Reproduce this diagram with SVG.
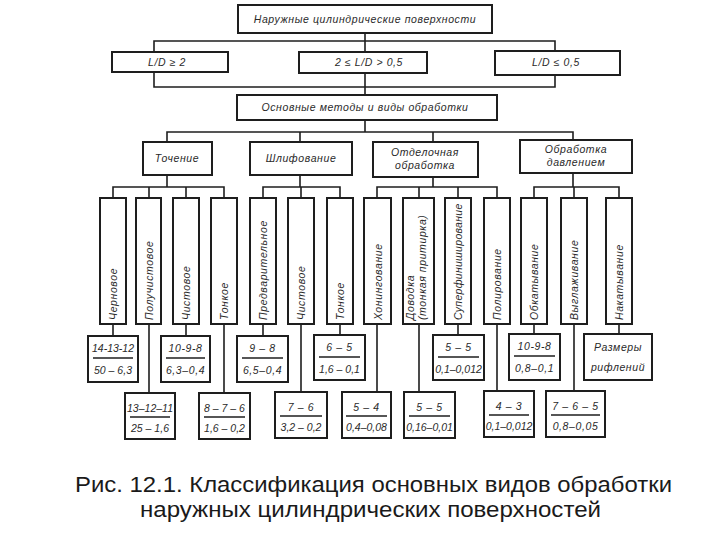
<svg xmlns="http://www.w3.org/2000/svg" width="720" height="540" viewBox="0 0 720 540">
<style>
.b{fill:#fff;stroke:#1e1e1e;stroke-width:2}
.c{fill:none;stroke:#1e1e1e;stroke-width:1.6}
.t{font-family:"Liberation Sans",Arial,sans-serif;font-style:italic;font-size:10.5px;fill:#2a2a2a;letter-spacing:0.6px}
.n{letter-spacing:0}
.m{text-anchor:middle}
.cap{font-family:"Liberation Sans",Arial,sans-serif;font-size:22.5px;fill:#1a1a1a}
</style>
<rect width="720" height="540" fill="#fff"/>
<g id="connectors" class="c">
<path d="M365 33V41M154 52V41H555V52M365 41V52"/>
<path d="M154 72V87H555V75M365 73V95"/>
<path d="M365 120V132M167 142V132H573V140M300 132V142M433 132V142"/>
<path d="M167 175V187M113 198V187H224V198M149 187V198M186 187V198"/>
<path d="M300 175V187M263 198V187H340V198M301 187V198"/>
<path d="M433 177V187M377 198V187H497V198M419 187V198M458 187V198"/>
<path d="M573 173V187M534 198V187H619V198M574 187V198"/>
<path d="M113 324V336M186 324V336M263 324V336M340 324V335M458 324V335M534 324V334M619 324V334"/>
<path d="M149 324V393M224 324V393M301 324V392M377 324V392M419 324V392M497 324V391M574 324V391"/>
</g>
<g id="n-top"><rect class="b" x="238" y="5" width="254" height="28"/><text class="t m" x="365" y="23">Наружные цилиндрические поверхности</text></g>
<g id="n-ld1"><rect class="b" x="112" y="52" width="116" height="20"/><text class="t m" x="167" y="66">L/D ≥ 2</text></g>
<g id="n-ld2"><rect class="b" x="299" y="52" width="128" height="21"/><text class="t m" x="369" y="66">2 ≤ L/D &gt; 0,5</text></g>
<g id="n-ld3"><rect class="b" x="495" y="51" width="125" height="24"/><text class="t m" x="556" y="66">L/D ≤ 0,5</text></g>
<g id="n-methods"><rect class="b" x="237" y="95" width="260" height="25"/><text class="t m" x="365" y="111">Основные методы и виды обработки</text></g>
<g id="n-turn"><rect class="b" x="143" y="142" width="69" height="33"/><text class="t m" x="177" y="162">Точение</text></g>
<g id="n-grind"><rect class="b" x="250" y="142" width="102" height="33"/><text class="t m" x="301" y="162">Шлифование</text></g>
<g id="n-finish"><rect class="b" x="373" y="142" width="105" height="35"/><text class="t m" x="425" y="156">Отделочная</text><text class="t m" x="425" y="169">обработка</text></g>
<g id="n-press"><rect class="b" x="520" y="140" width="112" height="33"/><text class="t m" x="576" y="153">Обработка</text><text class="t m" x="576" y="166">давлением</text></g>
<g id="v1"><rect class="b" x="100" y="198" width="26" height="126"/><text class="t" transform="translate(117,320) rotate(-90)">Черновое</text></g>
<g id="v2"><rect class="b" x="136" y="198" width="25" height="126"/><text class="t" transform="translate(152.5,320) rotate(-90)">Получистовое</text></g>
<g id="v3"><rect class="b" x="173" y="198" width="26" height="126"/><text class="t" transform="translate(190,320) rotate(-90)">Чистовое</text></g>
<g id="v4"><rect class="b" x="211" y="198" width="26" height="126"/><text class="t" transform="translate(228,320) rotate(-90)">Тонкое</text></g>
<g id="v5"><rect class="b" x="250" y="198" width="26" height="126"/><text class="t" transform="translate(267,320) rotate(-90)">Предварительное</text></g>
<g id="v6"><rect class="b" x="288" y="198" width="26" height="126"/><text class="t" transform="translate(305,320) rotate(-90)">Чистовое</text></g>
<g id="v7"><rect class="b" x="327" y="198" width="26" height="126"/><text class="t" transform="translate(344,320) rotate(-90)">Тонкое</text></g>
<g id="v8"><rect class="b" x="364" y="198" width="27" height="126"/><text class="t" transform="translate(381.5,320) rotate(-90)">Хонингование</text></g>
<g id="v9"><rect class="b" x="403" y="198" width="31" height="126"/><text class="t" transform="translate(414,320) rotate(-90)">Доводка</text><text class="t" transform="translate(426,320) rotate(-90)">(тонкая притирка)</text></g>
<g id="v10"><rect class="b" x="445" y="198" width="26" height="126"/><text class="t" transform="translate(462,320) rotate(-90)" style="letter-spacing:0.3px">Суперфиниширование</text></g>
<g id="v11"><rect class="b" x="484" y="198" width="26" height="126"/><text class="t" transform="translate(501,320) rotate(-90)">Полирование</text></g>
<g id="v12"><rect class="b" x="521" y="198" width="26" height="126"/><text class="t" transform="translate(538,320) rotate(-90)">Обкатывание</text></g>
<g id="v13"><rect class="b" x="561" y="198" width="26" height="126"/><text class="t" transform="translate(578,320) rotate(-90)">Выглаживание</text></g>
<g id="v14"><rect class="b" x="606" y="198" width="26" height="126"/><text class="t" transform="translate(623,320) rotate(-90)">Накатывание</text></g>
<g id="f1"><rect class="b" x="88" y="336" width="50" height="46"/><text class="t m n" x="113" y="352">14-13-12</text><path class="c" d="M93 358H133"/><text class="t m n" x="113" y="374">50 – 6,3</text></g>
<g id="f2"><rect class="b" x="161" y="336" width="49" height="46"/><text class="t m" x="185.5" y="352">10-9-8</text><path class="c" d="M166 358H205"/><text class="t m" x="185.5" y="374">6,3–0,4</text></g>
<g id="f3"><rect class="b" x="237" y="336" width="51" height="46"/><text class="t m" x="262.5" y="352">9 – 8</text><path class="c" d="M242 358H283"/><text class="t m" x="262.5" y="374">6,5–0,4</text></g>
<g id="f4"><rect class="b" x="314" y="335" width="51" height="45"/><text class="t m" x="339.5" y="351">6 – 5</text><path class="c" d="M319 357H360"/><text class="t m n" x="339.5" y="373">1,6 – 0,1</text></g>
<g id="f5"><rect class="b" x="433" y="335" width="51" height="45"/><text class="t m" x="458.5" y="351">5 – 5</text><path class="c" d="M438 357H479"/><text class="t m n" x="458.5" y="373">0,1–0,012</text></g>
<g id="f6"><rect class="b" x="509" y="334" width="51" height="46"/><text class="t m" x="534.5" y="350">10-9-8</text><path class="c" d="M514 356H555"/><text class="t m" x="534.5" y="372">0,8–0,1</text></g>
<g id="f7"><rect class="b" x="584" y="334" width="68" height="46"/><text class="t m" x="618" y="351">Размеры</text><text class="t m" x="618" y="371">рифлений</text></g>
<g id="f8"><rect class="b" x="125" y="393" width="50" height="46"/><text class="t m n" x="150" y="412">13–12–11</text><path class="c" d="M130 417H170"/><text class="t m n" x="150" y="432">25 – 1,6</text></g>
<g id="f9"><rect class="b" x="199" y="393" width="51" height="46"/><text class="t m n" x="224.5" y="412">8 – 7 – 6</text><path class="c" d="M204 417H245"/><text class="t m n" x="224.5" y="432">1,6 – 0,2</text></g>
<g id="f10"><rect class="b" x="275" y="392" width="52" height="46"/><text class="t m" x="301" y="411">7 – 6</text><path class="c" d="M280 416H322"/><text class="t m n" x="301" y="431">3,2 – 0,2</text></g>
<g id="f11"><rect class="b" x="342" y="392" width="49" height="46"/><text class="t m" x="366.5" y="411">5 – 4</text><path class="c" d="M346 416H387"/><text class="t m n" x="366.5" y="431">0,4–0,08</text></g>
<g id="f12"><rect class="b" x="404" y="392" width="51" height="46"/><text class="t m" x="429.5" y="411">5 – 5</text><path class="c" d="M409 416H450"/><text class="t m n" x="429.5" y="431">0,16–0,01</text></g>
<g id="f13"><rect class="b" x="484" y="391" width="50" height="46"/><text class="t m" x="509" y="410">4 – 3</text><path class="c" d="M489 415H529"/><text class="t m n" x="509" y="430">0,1–0,012</text></g>
<g id="f14"><rect class="b" x="546" y="391" width="59" height="46"/><text class="t m" x="575.5" y="410">7 – 6 – 5</text><path class="c" d="M551 415H600"/><text class="t m" x="575.5" y="430">0,8–0,05</text></g>
<g id="caption">
<text class="cap" x="75" y="492" textLength="597" lengthAdjust="spacingAndGlyphs">Рис. 12.1. Классификация основных видов обработки</text>
<text class="cap" x="140" y="517" textLength="461" lengthAdjust="spacingAndGlyphs">наружных цилиндрических поверхностей</text>
</g>
</svg>
